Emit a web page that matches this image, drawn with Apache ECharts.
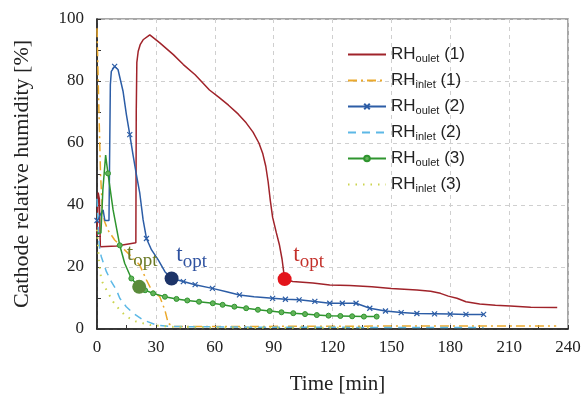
<!DOCTYPE html>
<html>
<head>
<meta charset="utf-8">
<script src="https://cdn.jsdelivr.net/npm/echarts@6/dist/echarts.min.js"></script>
<style>
  html, body { margin: 0; padding: 0; background: #fff; }
  #chart { width: 584px; height: 401px; }
</style>
</head>
<body>
<div id="chart"></div>
<script>
// [time (min), RH (%)]
const outlet1 = [[0, 30], [0.6, 44], [1.2, 42], [1.7, 26.5], [10, 26.8], [19.8, 27.8], [20, 70], [20.3, 86], [21, 89.6],
  [22, 91.7], [23.5, 93.3], [26.9, 94.9], [32, 92.3], [38.9, 88.5], [44, 85.3], [50, 82], [57.3, 77.1], [62, 74.8],
  [67, 72.2], [72, 69.3], [76, 66.5], [79.5, 63.5], [82.5, 60], [84.5, 56.5], [86, 52.5], [87.2, 47.5], [88.3, 41.5],
  [89.5, 36], [91.4, 31], [93, 27], [94.3, 22.5], [95.6, 16.1], [99.7, 15.3], [110, 14.8], [118.6, 14.2],
  [128.8, 14.0], [140, 13.6], [150, 13.1], [163, 12.6], [170, 12.2], [175, 11.5], [179, 10.6], [183.4, 9.9],
  [188, 8.8], [195, 8.1], [203, 7.7], [210.6, 7.4], [221, 7.0], [234.5, 6.9]];
const inlet1 = [[0, 97], [0.8, 75], [1.8, 50], [2.8, 38], [3.9, 34.6], [5.6, 31.9], [9, 28.7], [13.3, 26], [16.7, 23.9],
  [21.8, 20.6], [25.2, 15.8], [27.8, 12.6], [32, 10.4], [34.6, 6.1], [36.3, 1.8], [38.9, 0.8], [60, 0.8], [120, 0.9],
  [180, 1.0], [234, 1.0]];
const outlet2 = [[0, 35], [3.1, 38.4], [4, 35], [6.1, 35], [6.8, 78.8], [7.3, 83.1], [9, 84.7], [10.7, 83.7], [13.3, 76.6],
  [15, 69.1], [16.7, 62.7], [18.4, 56], [20, 50], [21.8, 43.8], [23.5, 35.2], [25.2, 29.2], [27.8, 25.5], [31.2, 22.3],
  [34.6, 18.5], [38, 16.3], [44, 15.3], [50, 14.3], [58.8, 13.1], [66, 12], [72.6, 11], [80, 10.4], [89.5, 9.9],
  [96, 9.6], [103, 9.4], [111, 8.9], [118.6, 8.3], [125, 8.3], [132, 8.3], [139, 6.7], [147, 5.8], [155, 5.3],
  [163, 5.0], [172, 4.9], [180, 4.8], [188, 4.7], [197, 4.7]];
const inlet2 = [[0, 42], [0.8, 30], [1.4, 25.5], [2.2, 23.3], [4.8, 18.5], [7.3, 15.3], [9.9, 12.6], [11.6, 9.9],
  [14.9, 7.2], [18.4, 5.1], [23.5, 2.9], [30.3, 1.3], [37.1, 0.8], [80, 0.6], [140, 0.5], [197, 0.5]];
const outlet3 = [[0, 30.9], [2, 31], [3, 45], [4.4, 56.1], [5, 53], [5.6, 50.2], [8.2, 38.4], [11.6, 27], [14.1, 21.2],
  [17.5, 16.3], [21.5, 13.6], [24.5, 12.5], [28.6, 11.5], [34.6, 10.4], [40.5, 9.7], [46, 9.2], [52, 8.8], [59, 8.3],
  [64, 7.8], [70, 7.2], [76, 6.7], [82, 6.2], [88, 5.8], [94, 5.4], [100, 5.1], [106, 4.8], [112, 4.5], [118, 4.3],
  [124, 4.2], [130, 4.1], [136, 4.0], [142.5, 4.0]];
const inlet3 = [[0, 32], [1, 22], [2.2, 15.8], [4.8, 12.6], [8.2, 8.8], [11.6, 6.1], [15, 4], [20, 2.4], [26.9, 1.3],
  [40, 0.6], [80, 0.4], [140, 0.4]];

// times where the small x / o markers sit
const outlet2Marks = [0, 9, 16.7, 25.2, 44, 50, 58.8, 72.6, 89.5, 96, 103, 111, 118.6, 125, 132, 139, 147, 155,
  163, 172, 180, 188, 197];
const outlet3Marks = [5.6, 11.6, 17.5, 24.5, 28.6, 34.6, 40.5, 46, 52, 59, 64, 70, 76, 82, 88, 94, 100, 106, 112,
  118, 124, 130, 136, 142.5];

// t_opt points: [time, RH] for curves (1), (2), (3)
const toptPoints = [[95.6, 16.1], [38, 16.3], [21.5, 13.6]];

const xTicks = [0, 240, 30];
const yTicks = [0, 100, 20];

const serif = 'Liberation Serif';
const crossPath = 'path://M0,0L10,10M10,0L0,10';

function marked(data, marks) {
  return data.map(p => marks.includes(p[0]) ? { value: p } : { value: p, symbol: 'none' });
}

function toptMark(pt, color, labelColor, offset) {
  return {
    symbol: 'circle',
    symbolSize: 14,
    itemStyle: { color: color, opacity: 1 },
    label: {
      show: true,
      position: 'inside',
      offset: offset,
      formatter: '{t|t}{o|opt}',
      rich: {
        t: { fontFamily: serif, fontSize: 23, color: labelColor, lineHeight: 24, verticalAlign: 'top' },
        o: { fontFamily: serif, fontSize: 19, color: labelColor, lineHeight: 24, verticalAlign: 'top', padding: [9, 0, 0, 0] }
      }
    },
    data: [{ coord: pt }],
    animation: false
  };
}

const chart = echarts.init(document.getElementById('chart'));
chart.setOption({
  animation: false,
  grid: { left: 97, right: 16, top: 19, bottom: 72, show: true, borderColor: '#8a8a8a', borderWidth: 1.5 },
  legend: {
    orient: 'vertical',
    left: 342,
    top: 41,
    itemWidth: 38,
    itemHeight: 7,
    itemGap: 7.5,
    selectedMode: false,
    data: ['RHoulet (1)', 'RHinlet (1)', 'RHoulet (2)', 'RHinlet (2)', 'RHoulet (3)', 'RHinlet (3)'],
    formatter: name => {
      const m = name.match(/^RH(\w+) (\(\d\))$/);
      return '{rh|RH}{sub|' + m[1] + '}{rh| ' + m[2] + '}';
    },
    textStyle: {
      rich: {
        rh: { fontFamily: 'Liberation Sans', fontSize: 17, color: '#222', lineHeight: 20 },
        sub: { fontFamily: 'Liberation Sans', fontSize: 11, color: '#222', lineHeight: 20, verticalAlign: 'bottom' }
      }
    }
  },
  xAxis: {
    type: 'value',
    min: xTicks[0], max: xTicks[1], interval: xTicks[2],
    name: 'Time [min]',
    nameLocation: 'middle',
    nameGap: 45,
    nameTextStyle: { fontFamily: serif, fontSize: 21, color: '#222', padding: [0, 0, 0, 10] },
    axisLine: { lineStyle: { color: '#111', width: 1.5 } },
    axisTick: { inside: true, length: 4, lineStyle: { color: '#333' } },
    minorTick: { show: true, splitNumber: 2, length: 4, lineStyle: { color: '#333' } },
    axisLabel: { fontFamily: serif, fontSize: 17, color: '#222', margin: 10 },
    splitLine: { show: true, lineStyle: { color: '#cfcfcf', type: [4, 4] } }
  },
  yAxis: {
    type: 'value',
    min: yTicks[0], max: yTicks[1], interval: yTicks[2],
    name: 'Cathode relative humidity [%]',
    nameLocation: 'middle',
    nameGap: 64,
    nameTextStyle: { fontFamily: serif, fontSize: 22, color: '#222' },
    axisLine: { show: true, lineStyle: { color: '#111', width: 1.5 } },
    axisTick: { show: true, inside: true, length: 4, lineStyle: { color: '#333' } },
    minorTick: { show: true, splitNumber: 2, length: 4, lineStyle: { color: '#333' } },
    axisLabel: { fontFamily: serif, fontSize: 17, color: '#222', margin: 13 },
    splitLine: { show: true, lineStyle: { color: '#cfcfcf', type: [4, 4] } }
  },
  series: [
    {
      name: 'RHoulet (1)', type: 'line', data: outlet1, symbol: 'none',
      lineStyle: { color: '#a0232a', width: 1.5 }, itemStyle: { color: '#a0232a', opacity: 0 },
      markPoint: toptMark(toptPoints[0], '#e3141b', '#c4312b', [24, -24])
    },
    {
      name: 'RHinlet (1)', type: 'line', data: inlet1, symbol: 'none',
      lineStyle: { color: '#eba92c', width: 1.5, type: [9, 4, 2, 4] }, itemStyle: { color: '#eba92c', opacity: 0 }
    },
    {
      name: 'RHoulet (2)', type: 'line', data: marked(outlet2, outlet2Marks), symbol: crossPath, symbolSize: 5,
      showAllSymbol: true,
      lineStyle: { color: '#2c5da6', width: 1.5 },
      itemStyle: { color: '#2c5da6', borderColor: '#2c5da6', borderWidth: 1.2 },
      markPoint: toptMark(toptPoints[1], '#1d3468', '#2f52a0', [20, -23])
    },
    {
      name: 'RHinlet (2)', type: 'line', data: inlet2, symbol: 'none',
      lineStyle: { color: '#5cb8e6', width: 1.5, type: [8, 6] }, itemStyle: { color: '#5cb8e6', opacity: 0 }
    },
    {
      name: 'RHoulet (3)', type: 'line', data: marked(outlet3, outlet3Marks), symbol: 'circle', symbolSize: 5,
      showAllSymbol: true,
      lineStyle: { color: '#2f952f', width: 1.5 },
      itemStyle: { color: '#63b35a', borderColor: '#2f952f', borderWidth: 1 },
      markPoint: toptMark(toptPoints[2], '#5a8b3a', '#6b7a26', [3, -32])
    },
    {
      name: 'RHinlet (3)', type: 'line', data: inlet3, symbol: 'none',
      lineStyle: { color: '#cbd44e', width: 2, type: [1.5, 6] }, itemStyle: { color: '#cbd44e', opacity: 0 }
    }
  ]
});
</script>
</body>
</html>
